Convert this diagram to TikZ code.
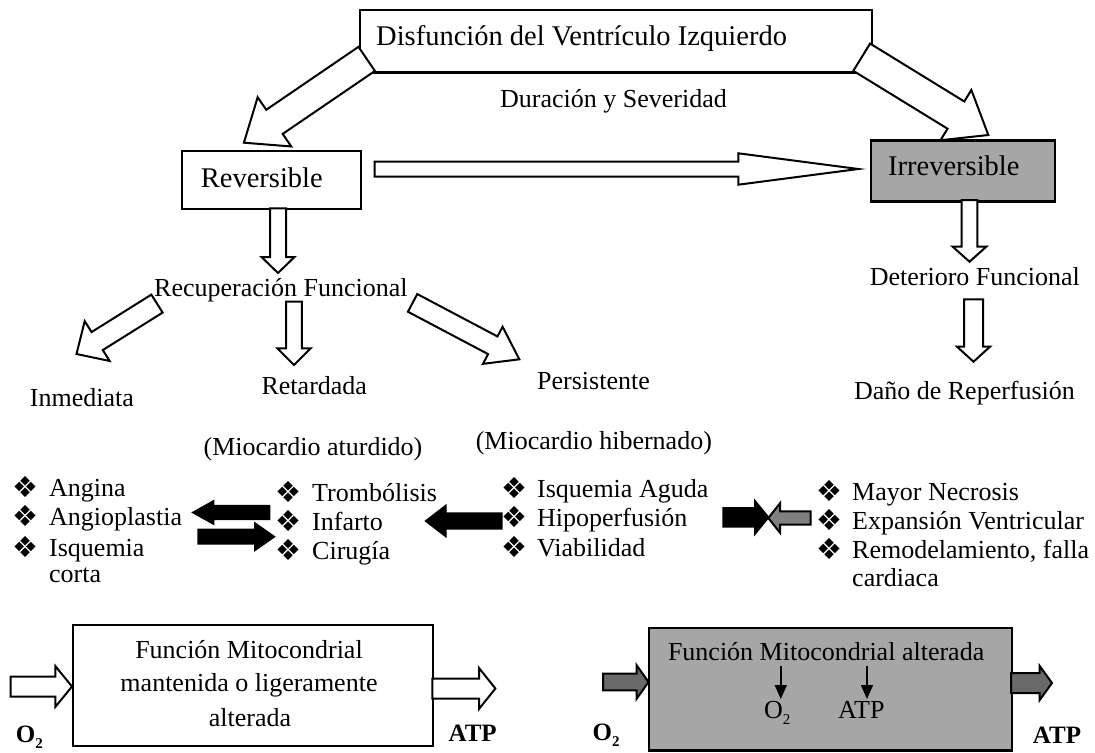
\documentclass[tikz,border=0pt]{standalone}
\usepackage{fontspec}
\setmainfont{Liberation Serif}
\newfontfamily\symfont{DejaVu Sans}
\usetikzlibrary{calc,arrows.meta}
\definecolor{boxgray}{RGB}{166,166,166}
\definecolor{midgray}{RGB}{128,128,128}
\definecolor{dkgray}{RGB}{105,105,105}
\newcommand\lowsub[1]{\raisebox{-0.24em}{\fontsize{15bp}{15bp}\selectfont #1}}
\newcommand\bul{{\symfont\fontsize{29bp}{29bp}\selectfont ❖}}
% block arrow: [style]{from}{to}{half shaft}{half head}{head length}
\newcommand\barrow[6][]{\draw[barr,#1] ($(#2)!#4!90:(#3)$) -- ($($(#3)!#6!(#2)$)!#4!90:(#3)$) -- ($($(#3)!#6!(#2)$)!#5!90:(#3)$) -- (#3) -- ($($(#3)!#6!(#2)$)!#5!-90:(#3)$) -- ($($(#3)!#6!(#2)$)!#4!-90:(#3)$) -- ($(#2)!#4!-90:(#3)$) -- cycle;}
\begin{document}
\begin{tikzpicture}[x=1bp,y={(0bp,-1bp)},
  box/.style={draw, line width=2.2bp, fill=white, inner sep=0pt, anchor=north west},
  gbox/.style={box, fill=boxgray},
  barr/.style={draw, fill=white, line width=2bp, line join=miter},
  txt/.style={inner sep=0pt, anchor=base west, font=\fontsize{26bp}{30bp}\selectfont},
  ctxt/.style={txt, anchor=base},
  big/.style={txt, font=\fontsize{28.5bp}{32bp}\selectfont},
  bt/.style={txt, font=\fontsize{25bp}{30bp}\selectfont\bfseries},
  bl/.style={inner sep=0pt, anchor=base west},
  thin/.style={line width=1.6bp, -{Triangle[width=12bp,length=14bp]}}]
\useasboundingbox (0,0) rectangle (1095,753);
% boxes
\node[box, minimum width=512bp, minimum height=62bp] (top) at (358.6,9.3) {};
\node[box, minimum width=179bp, minimum height=58bp] (rev) at (180.7,150) {};
\node[gbox, minimum width=184bp, minimum height=61bp] (irr) at (870,139.3) {};
\node[box, minimum width=360bp, minimum height=121bp] (mito1) at (72,624) {};
\node[gbox, minimum width=363.5bp, minimum height=122.6bp] (mito2) at (647.5,626.7) {};
% arrow end points
\coordinate (a1s) at (366.7,58.9); \coordinate (a1e) at (243.9,142.7);
\coordinate (a2s) at (861.7,57.2); \coordinate (a2e) at (988.3,135);
\coordinate (a3s) at (374.7,169); \coordinate (a3e) at (858.3,169);
\coordinate (a4s) at (278,208.3); \coordinate (a4e) at (278,273);
\coordinate (a5s) at (969.5,200); \coordinate (a5e) at (969.5,261.7);
\coordinate (a6s) at (973.5,299.3); \coordinate (a6e) at (973.5,361.7);
\coordinate (a7s) at (157,303.6); \coordinate (a7e) at (76.5,354);
\coordinate (a8s) at (294,301.7); \coordinate (a8e) at (294,365);
\coordinate (a9s) at (412.6,302.9); \coordinate (a9e) at (519.3,359.3);
\coordinate (b1s) at (269.3,512.5); \coordinate (b1e) at (193.3,512.5);
\coordinate (b2s) at (198.3,536.7); \coordinate (b2e) at (274,536.7);
\coordinate (b3s) at (501.7,521); \coordinate (b3e) at (426,521);
\coordinate (b4s) at (723.3,517.4); \coordinate (b4e) at (768.3,517.4);
\coordinate (b5s) at (810.7,518); \coordinate (b5e) at (768.3,518);
\coordinate (c1s) at (10.5,686.5); \coordinate (c1e) at (72,686.5);
\coordinate (c2s) at (432.3,688.5); \coordinate (c2e) at (495.4,688.5);
\coordinate (c3s) at (603,682); \coordinate (c3e) at (648.5,682);
\coordinate (c4s) at (1011,683); \coordinate (c4e) at (1052,683);
% block arrows
\barrow{a1s}{a1e}{14.6bp}{29.8bp}{37bp}
\barrow{a2s}{a2e}{16bp}{29.5bp}{38bp}
\barrow{a3s}{a3e}{7.5bp}{15.7bp}{120bp}
\barrow{a4s}{a4e}{8bp}{16.5bp}{16bp}
\barrow{a5s}{a5e}{7.8bp}{16.8bp}{15bp}
\barrow{a6s}{a6e}{9.5bp}{16.5bp}{15bp}
\barrow{a7s}{a7e}{10.6bp}{23.5bp}{24.4bp}
\barrow{a8s}{a8e}{7.9bp}{16.7bp}{16.7bp}
\barrow{a9s}{a9e}{10bp}{21bp}{30bp}
\barrow[fill=black]{b1s}{b1e}{6.7bp}{11.2bp}{20bp}
\barrow[fill=black]{b2s}{b2e}{7bp}{13.3bp}{19bp}
\barrow[fill=black]{b3s}{b3e}{7.7bp}{15bp}{19.5bp}
\barrow[fill=black]{b4s}{b4e}{9.2bp}{16.3bp}{13.3bp}
\barrow[fill=midgray]{b5s}{b5e}{6.7bp}{14.7bp}{11.7bp}
\barrow{c1s}{c1e}{10bp}{20.3bp}{16.6bp}
\barrow{c2s}{c2e}{10bp}{20.5bp}{16.4bp}
\barrow[fill=dkgray]{c3s}{c3e}{8.4bp}{17bp}{12bp}
\barrow[fill=dkgray]{c4s}{c4e}{10bp}{17bp}{12.3bp}
% texts
\node[big] (t1) at (376,46) {Disfunción del Ventrículo Izquierdo};
\node[txt] (t2) at (500,108) {Duración y Severidad};
\node[big] (t3) at (200.7,187) {Reversible};
\node[big] (t4) at (888,175) {Irreversible};
\node[txt] (t5) at (154,296) {Recuperación Funcional};
\node[txt] (t6) at (869.6,285) {Deterioro Funcional};
\node[txt] (t7) at (29.8,406) {Inmediata};
\node[txt] (t8) at (261.4,394) {Retardada};
\node[txt] (t9) at (537,389) {Persistente};
\node[txt] (t10) at (853.8,399) {Daño de Reperfusión};
\node[txt] (t11) at (203.4,455) {(Miocardio aturdido)};
\node[txt] (t12) at (475.6,449.5) {(Miocardio hibernado)};
% bullet lists
\node[bl] (u1) at (12,497) {\bul}; \node[txt] (l1) at (49,496) {Angina};
\node[bl] (u2) at (12,526) {\bul}; \node[txt] (l2) at (49,525) {Angioplastia};
\node[bl] (u3) at (12,557) {\bul}; \node[txt] (l3) at (49,556) {Isquemia};
\node[txt] (l4) at (49,582) {corta};
\node[bl] (u5) at (275,502.7) {\bul}; \node[txt] (l5) at (312,501.7) {Trombólisis};
\node[bl] (u6) at (275,531) {\bul}; \node[txt] (l6) at (312,530) {Infarto};
\node[bl] (u7) at (275,560) {\bul}; \node[txt] (l7) at (312,559) {Cirugía};
\node[bl] (u8) at (501.3,498) {\bul}; \node[txt] (l8) at (537,497) {Isquemia Aguda};
\node[bl] (u9) at (501.3,527) {\bul}; \node[txt] (l9) at (537,526) {Hipoperfusión};
\node[bl] (u10) at (501.3,557) {\bul}; \node[txt] (l10) at (537,556) {Viabilidad};
\node[bl] (u11) at (816,501) {\bul}; \node[txt] (l11) at (852,500) {Mayor Necrosis};
\node[bl] (u12) at (816,530.3) {\bul}; \node[txt] (l12) at (852,529.3) {Expansión Ventricular};
\node[bl] (u13) at (816,559.3) {\bul}; \node[txt] (l13) at (852,558.3) {Remodelamiento, falla};
\node[txt] (l14) at (852,586.7) {cardiaca};
% bottom left box text
\node[ctxt] (m1) at (249,658.3) {Función Mitocondrial};
\node[ctxt] (m2) at (249,691.7) {mantenida o ligeramente};
\node[ctxt] (m3) at (250,726.7) {alterada};
\node[bt] (o2a) at (15.8,742) {O\lowsub{2}};
\node[bt] (atpa) at (448.4,741.7) {ATP};
% bottom right box text
\node[txt] (m4) at (667.8,660) {Función Mitocondrial alterada};
\node[txt] (o2c) at (764,718.3) {O\lowsub{2}};
\node[txt] (atpc) at (838,718.3) {ATP};
\node[bt] (o2b) at (592.4,740) {O\lowsub{2}};
\node[bt] (atpb) at (1032.7,743) {ATP};
\coordinate (d1s) at (780.8,666); \coordinate (d1e) at (780.8,699);
\coordinate (d2s) at (867,666); \coordinate (d2e) at (867,699);
\draw[thin] (d1s) -- (d1e);
\draw[thin] (d2s) -- (d2e);
\end{tikzpicture}
\end{document}
